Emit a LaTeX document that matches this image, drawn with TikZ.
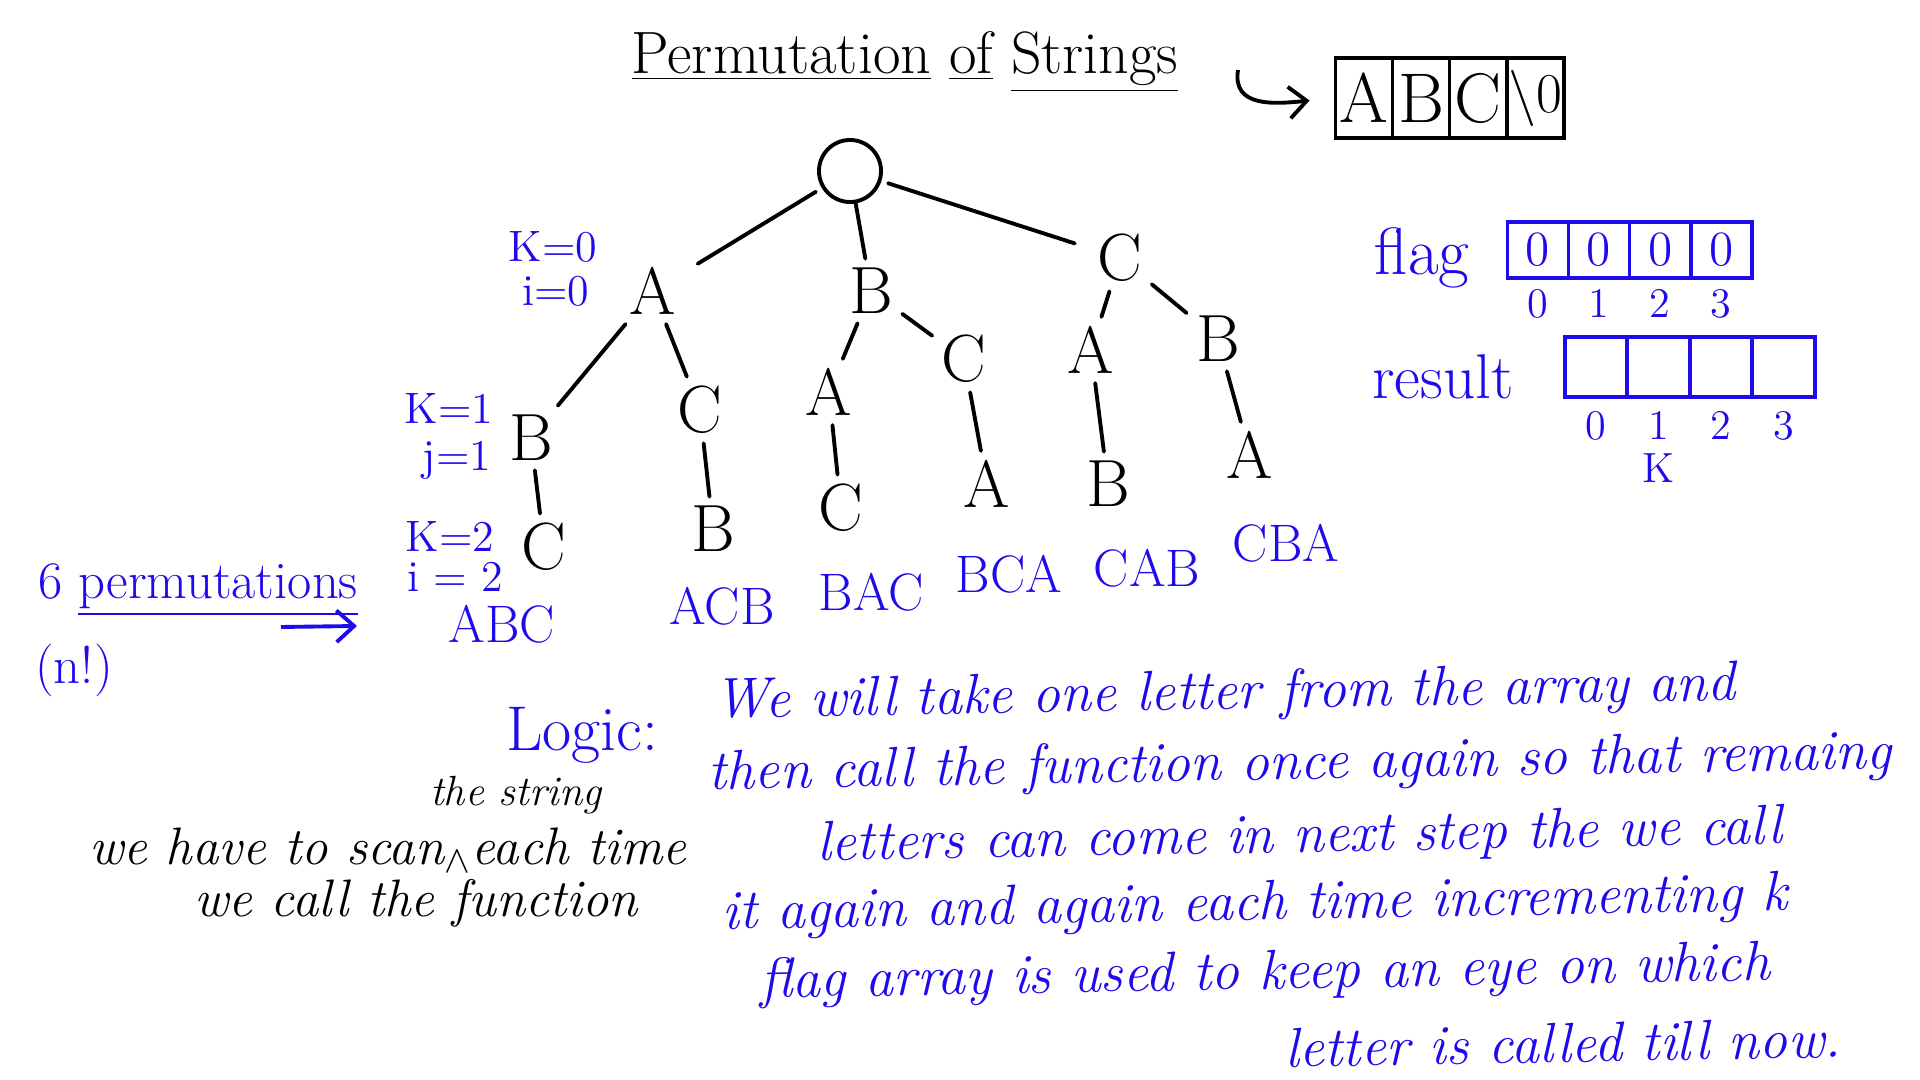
\documentclass[tikz,border=0pt]{standalone}
\usepackage{tikz}
\usetikzlibrary{positioning,arrows.meta}
\definecolor{penblue}{RGB}{30,10,235}

\begin{document}
\begin{tikzpicture}[
  x=0.01cm, y=-0.01cm,
  letter/.style={font=\fontsize{19}{21}\selectfont, inner sep=2.5pt},
  branch/.style={line width=1.1pt, line cap=round},
  root/.style={circle, draw, line width=1.1pt, minimum size=0.62cm, inner sep=0pt},
  blabel/.style={text=penblue, font=\fontsize{12.5}{14}\selectfont, inner sep=1pt},
  perm/.style={text=penblue, font=\fontsize{15}{17}\selectfont, inner sep=1pt},
  textline/.style={text=penblue, font=\fontsize{16}{18}\selectfont\itshape,
    rotate=1, inner sep=0pt},
  blacktext/.style={font=\fontsize{15}{17}\selectfont\itshape, inner sep=0pt},
  cell/.style={draw, line width=1.1pt, outer sep=0pt, inner sep=0pt,
    minimum width=0.57cm, minimum height=0.8cm, font=\fontsize{20}{22}\selectfont},
  flagcell/.style={draw=penblue, line width=1.1pt, outer sep=0pt, inner sep=0pt,
    minimum width=0.61cm, minimum height=0.56cm, text=penblue,
    font=\fontsize{14}{16}\selectfont},
  rescell/.style={draw=penblue, line width=1.1pt, outer sep=0pt, inner sep=0pt,
    minimum width=0.625cm, minimum height=0.6cm},
  idx/.style={text=penblue, font=\fontsize{12}{14}\selectfont, inner sep=0pt},
  pen arrow/.style={line width=1.1pt, -{Straight Barb[length=5pt,width=9pt]}}
]
  \fill[white] (0,0) rectangle (1920,1080);

  % title and the input string
  \node[font=\fontsize{17}{20}\selectfont] (title) at (905,62)
    {\underline{Permutation} \underline{of} \underline{Strings}};
  \node[cell] (arrA) at (1364,98) {A};
  \node[cell, right=0pt of arrA] (arrB) {B};
  \node[cell, right=0pt of arrB] (arrC) {C};
  \node[cell, right=0pt of arrC, font=\fontsize{16}{18}\selectfont] (arrEnd) {\textbackslash 0};
  \coordinate (ctail) at (1238,70);
  \draw[pen arrow, shorten >=0.26cm] (ctail) .. controls (1232,108) and (1275,104) .. (arrA.west);

  % recursion tree
  \node[root] (root) at (850,171) {};
  \node[letter] (a) at (653,291) {A};
  \node[letter] (b) at (871,291) {B};
  \node[letter] (c) at (1120,258) {C};
  \node[letter] (ab) at (531,438) {B};
  \node[letter] (ac) at (700,410) {C};
  \node[letter] (ba) at (829,392) {A};
  \node[letter] (bc) at (964,359) {C};
  \node[letter] (ca) at (1091,350) {A};
  \node[letter] (cb) at (1218,339) {B};
  \node[letter] (abc) at (544,547) {C};
  \node[letter] (acb) at (713,529) {B};
  \node[letter] (bac) at (841,508) {C};
  \node[letter] (bca) at (987,484) {A};
  \node[letter] (cab) at (1108,484) {B};
  \node[letter] (cba) at (1250,455) {A};

  \draw[branch, shorten <=2pt, shorten >=4pt] (root) -- (a);
  \draw[branch] (root) -- (b);
  \draw[branch, shorten <=2pt, shorten >=4pt] (root) -- (c);
  \draw[branch] (a) -- (ab);
  \draw[branch] (a) -- (ac);
  \draw[branch] (b) -- (ba);
  \draw[branch] (b) -- (bc);
  \draw[branch] (c) -- (ca);
  \draw[branch] (c) -- (cb);
  \draw[branch] (ab) -- (abc);
  \draw[branch] (ac) -- (acb);
  \draw[branch] (ba) -- (bac);
  \draw[branch] (bc) -- (bca);
  \draw[branch] (ca) -- (cab);
  \draw[branch] (cb) -- (cba);

  % indices beside the first branch
  \node[blabel] (k0) at (553,247) {K=0};
  \node[blabel] (i0) at (556,291) {i=0};
  \node[blabel] (k1) at (449,408) {K=1};
  \node[blabel] (i1) at (457,460) {j=1};
  \node[blabel] (k2) at (450,536) {K=2};
  \node[blabel] (i2) at (455,577) {i = 2};

  % the six results
  \node[perm] (pabc) at (502,624) {ABC};
  \node[perm] (pacb) at (722,606) {ACB};
  \node[perm] (pbac) at (871,592) {BAC};
  \node[perm] (pbca) at (1009,574) {BCA};
  \node[perm] (pcab) at (1147,568) {CAB};
  \node[perm] (pcba) at (1286,543) {CBA};

  \node[perm, font=\fontsize{15}{17}\selectfont] (count) at (198,590)
    {6 \underline{permutations}};
  \node[perm, font=\fontsize{15}{17}\selectfont] (fact) at (74,670) {(n!)};
  \coordinate (ptail) at (281,627);
  \coordinate (phead) at (357,626);
  \draw[pen arrow, draw=penblue] (ptail) -- (phead);

  % flag array
  \node[perm, font=\fontsize{19}{21}\selectfont] (flaglabel) at (1422,258) {flag};
  \node[flagcell] (f0) at (1538,250) {0};
  \node[flagcell, right=0pt of f0] (f1) {0};
  \node[flagcell, right=0pt of f1] (f2) {0};
  \node[flagcell, right=0pt of f2] (f3) {0};
  \node[idx, below=3pt of f0] (fi0) {0};
  \node[idx, below=3pt of f1] (fi1) {1};
  \node[idx, below=3pt of f2] (fi2) {2};
  \node[idx, below=3pt of f3] (fi3) {3};

  % result array
  \node[perm, font=\fontsize{18}{20}\selectfont] (reslabel) at (1443,377) {result};
  \node[rescell] (r0) at (1596,367) {};
  \node[rescell, right=0pt of r0] (r1) {};
  \node[rescell, right=0pt of r1] (r2) {};
  \node[rescell, right=0pt of r2] (r3) {};
  \node[idx, below=4pt of r0] (ri0) {0};
  \node[idx, below=4pt of r1] (ri1) {1};
  \node[idx, below=4pt of r2] (ri2) {2};
  \node[idx, below=4pt of r3] (ri3) {3};
  \node[idx, below=0.12cm of ri1] (rk) {K};

  % notes
  \node[perm, font=\fontsize{18}{20}\selectfont] (logic) at (582,735) {Logic:};
  \node[blacktext, font=\fontsize{12}{14}\selectfont\itshape] (thestr) at (516,795) {the string};
  \node[blacktext] (scan) at (388,850) {we have to scan$_\wedge$each time};
  \node[blacktext] (callfn) at (416,903) {we call the function};

  \node[textline] (l1) at (1225,695) {We will take one letter from the array and};
  \node[textline] (l2) at (1300,765) {then call the function once again so that remaing};
  \node[textline] (l3) at (1300,838) {letters can come in next step the we call};
  \node[textline] (l4) at (1255,906) {it again and again each time incrementing k};
  \node[textline] (l5) at (1265,975) {flag array is used to keep an eye on which};
  \node[textline] (l6) at (1563,1043) {letter is called till now.};
\end{tikzpicture}
\end{document}
